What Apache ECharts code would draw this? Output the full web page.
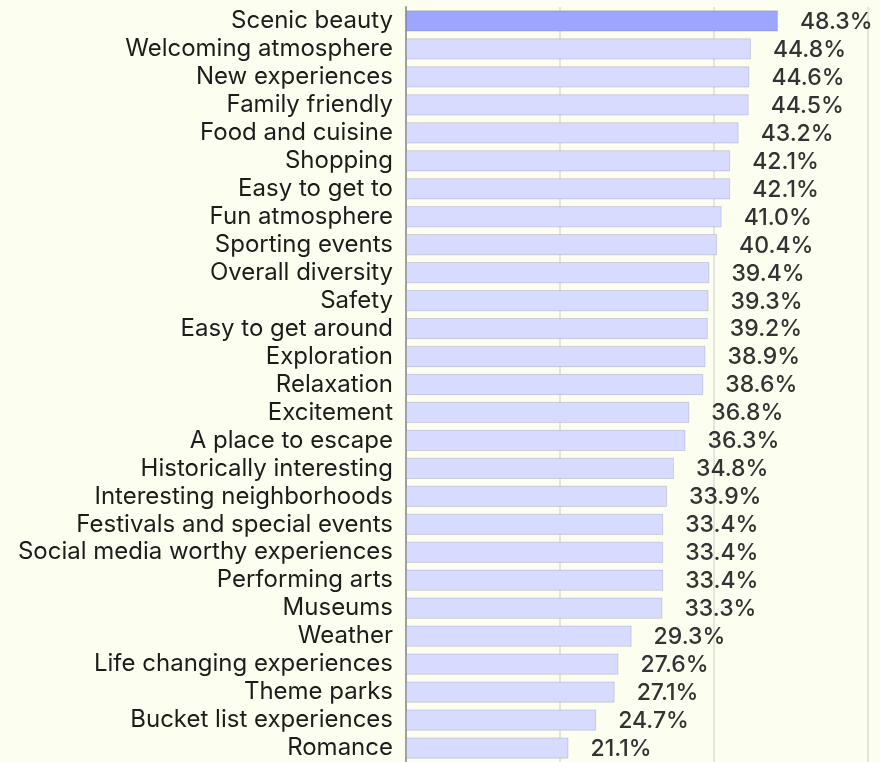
<!DOCTYPE html>
<html>
<head>
<meta charset="utf-8">
<script src="https://cdn.jsdelivr.net/npm/echarts@6/dist/echarts.min.js"></script>
<style>
  html, body { margin: 0; padding: 0; background: #fcfff0; }
  #chart { width: 880px; height: 762px; }
</style>
</head>
<body>
<div id="chart"></div>
<script>
// Destination attributes, ordered from highest to lowest share
const categories = [
  'Scenic beauty', 'Welcoming atmosphere', 'New experiences', 'Family friendly',
  'Food and cuisine', 'Shopping', 'Easy to get to', 'Fun atmosphere',
  'Sporting events', 'Overall diversity', 'Safety', 'Easy to get around',
  'Exploration', 'Relaxation', 'Excitement', 'A place to escape',
  'Historically interesting', 'Interesting neighborhoods', 'Festivals and special events',
  'Social media worthy experiences', 'Performing arts', 'Museums', 'Weather',
  'Life changing experiences', 'Theme parks', 'Bucket list experiences', 'Romance'
];
const shares = [
  48.3, 44.8, 44.6, 44.5, 43.2, 42.1, 42.1, 41.0, 40.4, 39.4, 39.3, 39.2,
  38.9, 38.6, 36.8, 36.3, 34.8, 33.9, 33.4, 33.4, 33.4, 33.3, 29.3,
  27.6, 27.1, 24.7, 21.1
];
const highlighted = ['Scenic beauty'];

const chart = echarts.init(document.getElementById('chart'), null, { renderer: 'canvas' });

const data = shares.map((v, i) => ({
  value: v,
  itemStyle: { color: highlighted.includes(categories[i]) ? '#9ca6ff' : '#d7dbff' }
}));

chart.setOption({
  backgroundColor: '#fcfff0',
  animation: false,
  grid: { left: 406, top: 7, width: 462, height: 757, containLabel: false },
  xAxis: {
    type: 'value',
    min: 0,
    max: 60,
    interval: 20,
    axisLabel: { show: false },
    axisLine: { show: false },
    axisTick: { show: false },
    splitLine: { show: true, lineStyle: { color: '#e4e6dc', width: 2 } }
  },
  yAxis: {
    type: 'category',
    inverse: true,
    data: categories,
    axisTick: { show: false },
    axisLine: { show: true, lineStyle: { color: '#a0a096', width: 2 } },
    axisLabel: {
      interval: 0,
      margin: 13,
      padding: [6, 0, 0, 0],
      color: '#1c1c1c',
      fontFamily: 'Inter',
      fontSize: 24
    }
  },
  series: [{
    type: 'bar',
    data: data,
    barCategoryGap: '24%',
    itemStyle: {
      borderColor: 'rgba(0,0,0,0.13)',
      borderWidth: 1
    },
    label: {
      show: true,
      position: 'right',
      distance: 22,
      offset: [0, 1],
      color: '#333333',
      fontFamily: 'Inter',
      fontWeight: 500,
      fontSize: 23,
      formatter: p => p.value.toFixed(1) + '%'
    }
  }]
});
</script>
</body>
</html>
